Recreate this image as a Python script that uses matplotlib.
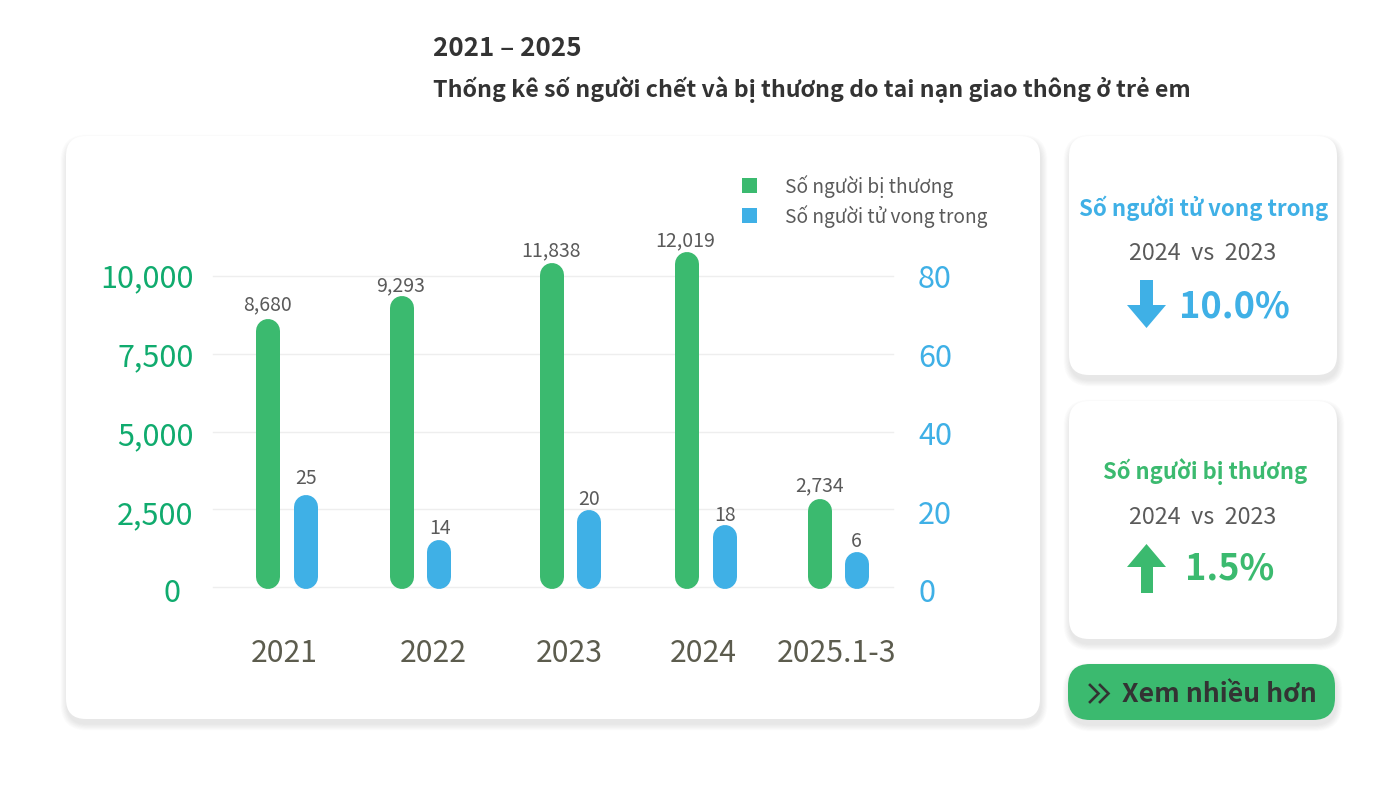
import matplotlib
matplotlib.use("Agg")
import matplotlib.pyplot as plt
from matplotlib.patches import FancyBboxPatch, Polygon, Rectangle
from matplotlib.transforms import ScaledTranslation

plt.rcParams['font.family'] = ['Noto Sans CJK TC', 'Noto Sans', 'DejaVu Sans']

# ---------- data ----------
categories = ['2021', '2022', '2023', '2024', '2025.1-3']
injured_labels = [8680, 9293, 11838, 12019, 2734]
deaths_labels = [25, 14, 20, 18, 6]
# Bar heights as actually drawn against the printed axes (the reference is not to scale)
injured_drawn = [8620, 9360, 10420, 10770, 2830]
deaths_drawn = [23.7, 12.1, 19.8, 15.9, 9.0]
left_ticks = [0, 2500, 5000, 7500, 10000]
right_ticks = [0, 20, 40, 60, 80]
title_lines = ['2021 – 2025', 'Thống kê số người chết và bị thương do tai nạn giao thông ở trẻ em']
legend_labels = ['Số người bị thương', 'Số người tử vong trong']

GREEN = '#3bba6f'
BLUE = '#3fb0e6'
AXGREEN = '#10ab6e'
GREY = '#5a5a5a'
DARK = '#333333'
W, H = 1400, 790
PX = 72 / 100  # points per pixel

fig = plt.figure(figsize=(W / 100, H / 100), dpi=100, facecolor='white')

# ---------- background layer in pixel coordinates ----------
bg = fig.add_axes([0, 0, 1, 1], zorder=0)
bg.set_xlim(0, W)
bg.set_ylim(H, 0)
bg.axis('off')


def card(x0, y0, x1, y1, r, color='white'):
    for i in range(12, 0, -1):
        bg.add_patch(FancyBboxPatch(
            (x0 - i * 0.55 + 1, y0 - i * 0.55 + 5), x1 - x0 + i * 1.1, y1 - y0 + i * 1.1,
            boxstyle=f'round,pad=0,rounding_size={r + i * 0.55}',
            fc='#000000', ec='none', alpha=0.008))
    bg.add_patch(FancyBboxPatch((x0, y0), x1 - x0, y1 - y0,
                                boxstyle=f'round,pad=0,rounding_size={r}', fc=color, ec='none'))


card(66, 136, 1040, 719, 20)
card(1069, 136, 1337, 375, 20)
card(1069, 401, 1337, 639, 20)
card(1068, 664, 1335, 720, 22, color=GREEN)

# ---------- chart ----------
X0, X1, Y0, Y10K = 213, 893, 587, 276
ax = fig.add_axes([X0 / W, 1 - Y0 / H, (X1 - X0) / W, (Y0 - Y10K) / H], zorder=1)
ax.patch.set_visible(False)
ax.set_xlim(X0, X1)
ax.set_ylim(0, 10000)
ax2 = ax.twinx()
ax2.patch.set_visible(False)
ax2.set_ylim(0, 80)

green_x = [268, 402, 552, 687, 820]
blue_x = [306, 439, 589, 725, 857]
green_lab_x = [268, 401, 551, 685, 820]
blue_lab_x = [306, 440, 589, 725, 856]
green_lab_dy = [1, -3, -1, -2, 0]
blue_lab_dy = [3, -2, -3, -4, -3]
BAR_PX = 24
scale_l = 10000 / (Y0 - Y10K)
scale_r = 80 / (Y0 - Y10K)


def rounded_bar(a, x, h, color, scale):
    # a round-capped line: the caps reach half the width past both end points
    a.plot([x, x], [(-2 + BAR_PX / 2) * scale, h - BAR_PX / 2 * scale], color=color,
           lw=BAR_PX * PX, solid_capstyle='round', clip_on=False, zorder=3)


for x, lx, h, lab, dy in zip(green_x, green_lab_x, injured_drawn, injured_labels, green_lab_dy):
    rounded_bar(ax, x, h, GREEN, scale_l)
    ax.annotate(f'{lab:,}', (lx, h), xytext=(0, (3 + dy) * PX), textcoords='offset points',
                ha='center', va='bottom', fontsize=14, color=GREY, annotation_clip=False, zorder=4)
for x, lx, h, lab, dy in zip(blue_x, blue_lab_x, deaths_drawn, deaths_labels, blue_lab_dy):
    rounded_bar(ax2, x, h, BLUE, scale_r)
    ax2.annotate(f'{lab}', (lx, h), xytext=(0, (3 + dy) * PX), textcoords='offset points',
                 ha='center', va='bottom', fontsize=14, color=GREY, annotation_clip=False, zorder=4)

for s in list(ax.spines.values()) + list(ax2.spines.values()):
    s.set_visible(False)
ax.set_xticks([])
ax.set_yticks(left_ticks)
ax.set_yticklabels([f'{v:,}' for v in left_ticks])
ax2.set_yticks(right_ticks)
ax.tick_params(axis='y', length=0, pad=14, labelsize=22, labelcolor=AXGREEN)
ax2.tick_params(axis='y', length=0, pad=18, labelsize=22, labelcolor=BLUE)
ax.grid(axis='y', color='#eeeeee', lw=1.0, clip_on=False)
ax.set_axisbelow(True)
tick_shift_px = [3.5, 3, 1.5, 1, -0.5]
left_shift_x_px = [-13, 0, 0, 0, 0]
right_shift_x_px = [0, 0, 0, 0, 0]
for labs, xs in ((ax.get_yticklabels(), left_shift_x_px), (ax2.get_yticklabels(), right_shift_x_px)):
    for t, d, sx in zip(labs, tick_shift_px, xs):
        t.set_transform(t.get_transform() + ScaledTranslation(sx * PX / 72, -d * PX / 72, fig.dpi_scale_trans))

# ---------- text & panels ----------
top = fig.add_axes([0, 0, 1, 1], zorder=2)
top.set_xlim(0, W)
top.set_ylim(H, 0)
top.axis('off')

cat_x = [284.5, 433.5, 569.5, 703.5, 836.5]
for x, c in zip(cat_x, categories):
    top.text(x, 654, c, ha='center', va='center', fontsize=21.7, color='#5c5c4e')

top.text(433, 49, title_lines[0], fontsize=18.7, fontweight='bold', color=DARK, va='center')
top.text(433, 90, title_lines[1], fontsize=16.7, fontweight='bold', color=DARK, va='center')

top.add_patch(Rectangle((742, 178), 15, 15, fc=GREEN, ec='none'))
top.add_patch(Rectangle((742, 208), 15, 15, fc=BLUE, ec='none'))
top.text(785, 187, legend_labels[0], fontsize=13.75, color=GREY, va='center')
top.text(785, 217, legend_labels[1], fontsize=13.75, color=GREY, va='center')

top.text(1204, 208, 'Số người tử vong trong', fontsize=16, fontweight='bold', color=BLUE, ha='center', va='center')
top.text(1203, 253, '2024  vs  2023', fontsize=16.8, color=GREY, ha='center', va='center')
top.add_patch(Polygon([(1140, 280), (1153, 280), (1153, 305), (1166, 305), (1146.5, 328), (1127, 305), (1140, 305)],
                      fc=BLUE, ec='none'))
top.text(1234.5, 307, '10.0%', fontsize=26, fontweight='bold', color=BLUE, ha='center', va='center')

top.text(1205, 472, 'Số người bị thương', fontsize=15.8, fontweight='bold', color=GREEN, ha='center', va='center')
top.text(1203, 518, '2024  vs  2023', fontsize=16.8, color=GREY, ha='center', va='center')
top.add_patch(Polygon([(1141, 593), (1153, 593), (1153, 567), (1166, 567), (1146.5, 544), (1127, 567), (1141, 567)],
                      fc=GREEN, ec='none'))
top.text(1230, 569, '1.5%', fontsize=26, fontweight='bold', color=GREEN, ha='center', va='center')

for cx in (1090, 1100):
    top.plot([cx, cx + 8.5, cx], [685, 693.5, 702], color=DARK, lw=1.9, solid_joinstyle='miter')
top.text(1219, 694, 'Xem nhiều hơn', fontsize=19.1, fontweight='bold', color=DARK, ha='center', va='center')

fig.savefig('out.png', dpi=100)
